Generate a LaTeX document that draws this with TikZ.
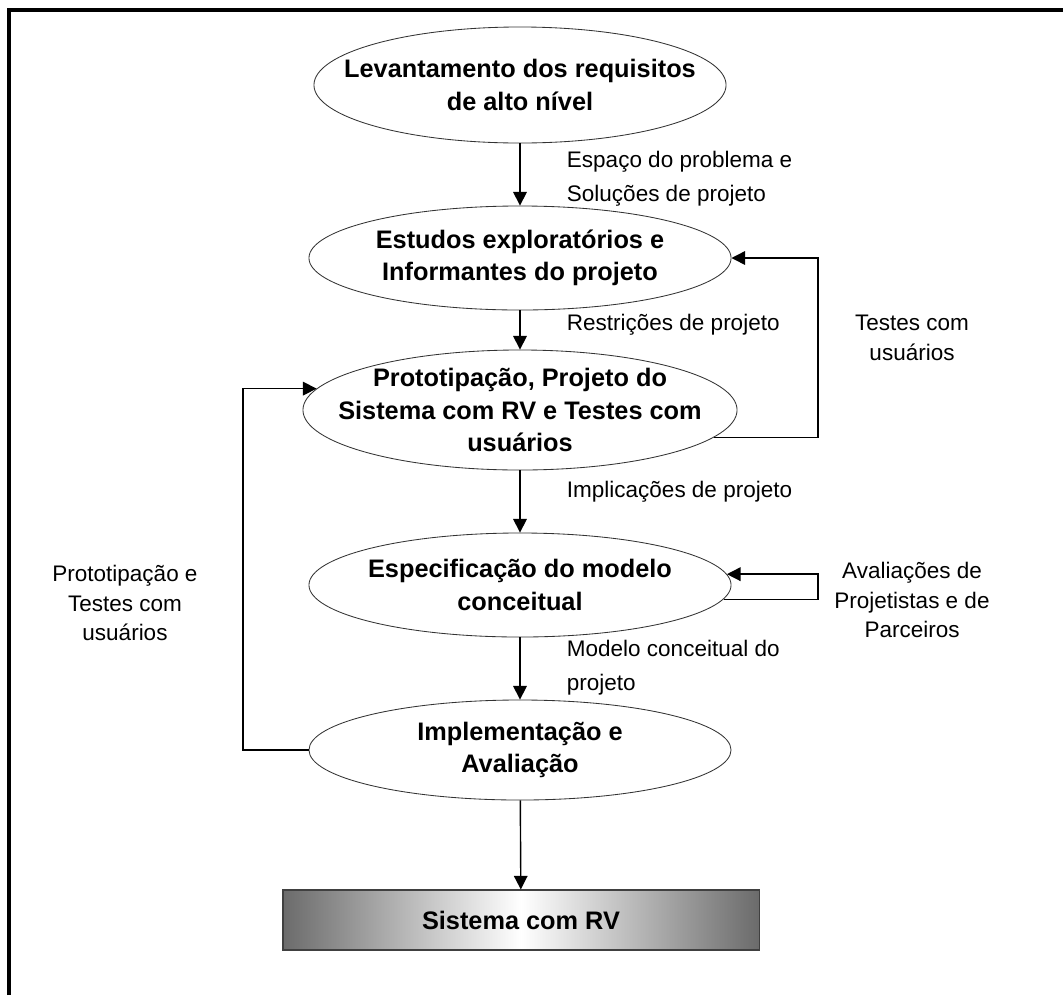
\documentclass[tikz,border=0pt]{standalone}
\usepackage{fontspec}
\setmainfont{Liberation Sans}
\usetikzlibrary{positioning, arrows.meta, shapes.geometric}

\begin{document}
\begin{tikzpicture}[
    x=0.025cm, y=-0.025cm,
    phase/.style={ellipse, draw=black!80, line width=0.6pt, fill=white, inner sep=0pt},
    phasetext/.style={align=center, font=\fontsize{18}{23}\selectfont\bfseries},
    flownote/.style={align=left, anchor=west, font=\fontsize{16}{24}\selectfont},
    sidenote/.style={align=center, font=\fontsize{16}{21}\selectfont},
    result/.style={rectangle, draw=black!75, line width=0.8pt, left color=black!58, right color=black!58, middle color=white, font=\fontsize{18}{23}\selectfont\bfseries},
    arr/.style={-{Triangle[length=0.34cm, width=0.34cm]}, line width=1pt},
]
\useasboundingbox (0,0) rectangle (1063,995);

% === Frame ===
\draw[line width=2.2pt] (9,995) -- (9,10) -- (1063,10);

% === Phases ===
\node[phase, minimum width=10.3cm, minimum height=2.9cm] (E1) at (520,85) {};
\node[phasetext] (E1t) at (E1) {Levantamento dos requisitos\\de alto nível};

\node[phase, minimum width=10.55cm, minimum height=2.6cm] (E2) at (520,258) {};
\node[phasetext] (E2t) at (E2) {Estudos exploratórios e\\Informantes do projeto};

\node[phase, minimum width=10.85cm, minimum height=3.0cm] (E3) at (520,410) {};
\node[phasetext] (E3t) at (E3) {Prototipação, Projeto do\\Sistema com RV e Testes com\\usuários};

\node[phase, minimum width=10.55cm, minimum height=2.6cm] (E4) at (520,585) {};
\node[phasetext] (E4t) at (E4) {Especificação do modelo\\conceitual};

\node[phase, minimum width=10.55cm, minimum height=2.5cm] (E5) at (520,750) {};
\node[phasetext] (E5t) at (E5) {Implementação e\\Avaliação};

% === Result ===
\node[result, minimum width=11.9cm, minimum height=1.5cm] (S) at (521,920) {Sistema com RV};

% === Main flow ===
\draw[arr] (E1) -- (E2);
\draw[arr] (E2) -- (E3);
\draw[arr] (E3) -- (E4);
\draw[arr] (E4) -- (E5);
\draw[arr] (E5) -- (S);

\node[flownote] (n1) at (562,179) {Espaço do problema e\\Soluções de projeto};
\node[flownote] (n2) at (562,325) {Restrições de projeto};
\node[flownote] (n3) at (562,492) {Implicações de projeto};
\node[flownote] (n4) at (562,668) {Modelo conceitual do\\projeto};

% === Feedback loops ===
\coordinate (rx) at (818,0);
\coordinate (lx) at (243,0);
\draw[arr] (E3.-8) -| (rx |- E2.east) -- (E2.east);
\draw[arr] (E4.-4.2) -| (rx |- E4.3.6) -- (E4.3.6);
\draw[arr] (E5.west) -| (lx |- E3.174) -- (E3.174);

\node[sidenote] (t1) at (912,338) {Testes com\\usuários};
\node[sidenote] (t2) at (912,600) {Avaliações de\\Projetistas e de\\Parceiros};
\node[sidenote] (t3) at (125,603) {Prototipação e\\Testes com\\usuários};

\end{tikzpicture}
\end{document}
